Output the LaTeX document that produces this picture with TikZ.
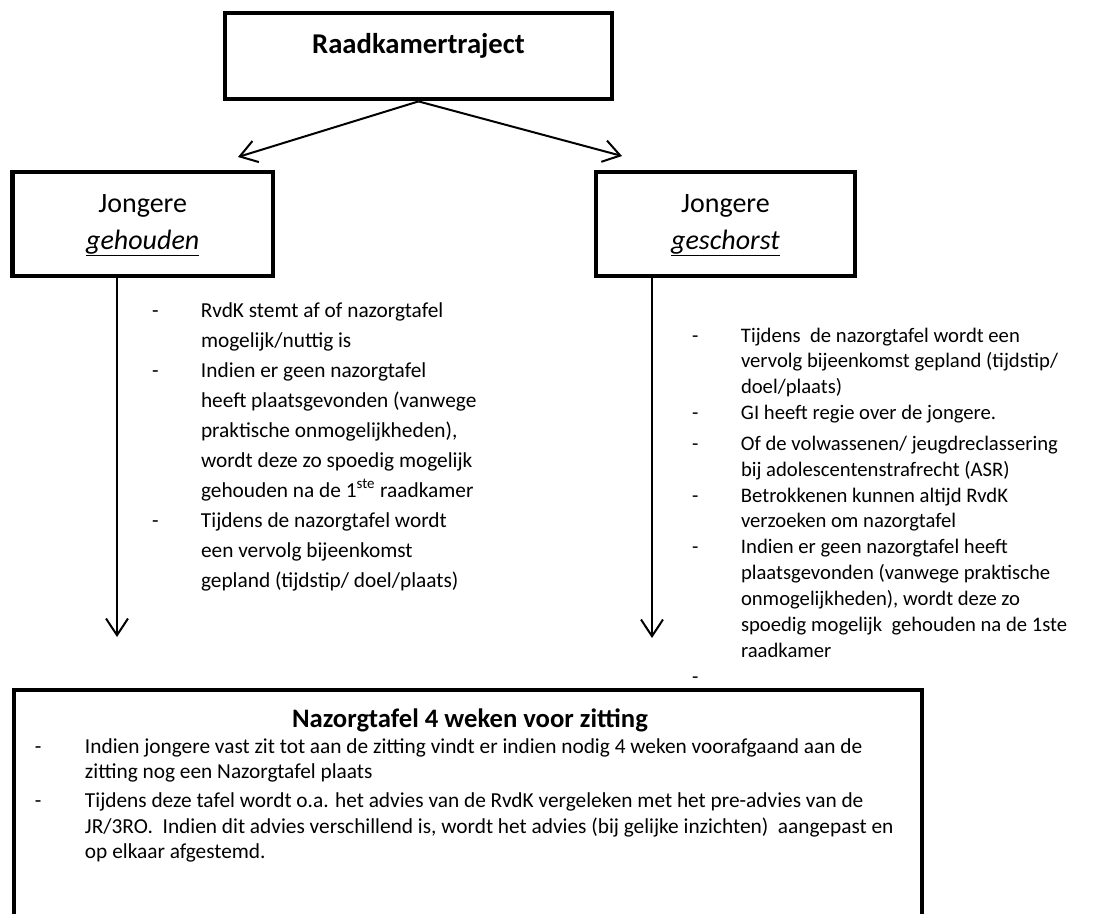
\documentclass[tikz,border=0pt]{standalone}
\usepackage{fontspec}
\setmainfont{Carlito}
\usetikzlibrary{arrows.meta}
% one list line: a dash in a fixed-width slot, then the text
\newcommand\dashline[2]{\hbox{\hbox to #1{-\hss}#2}}
% a continuation line, indented to the text column
\newcommand\contline[2]{\hbox{\kern#1\relax #2}}
\begin{document}
\begin{tikzpicture}[x=0.75pt,y=-0.75pt,
  box/.style={draw, line width=3.6pt, inner sep=0pt},
  conn/.style={line width=1.5pt, -{Straight Barb[length=12.5pt,width=16.5pt,line width=1.5pt]}},
  listtext/.style={anchor=base west, inner sep=0pt, outer sep=0pt}]
\useasboundingbox (0,0) rectangle (1093,914);
\clip (0,0) rectangle (1093,914);

% top box
\node[box, minimum width=290.25pt, minimum height=64.5pt] (top) at (418.5,56) {};
\node[anchor=base, inner sep=0pt] (toptitle) at (418.5,53)
  {\fontsize{21.5}{25}\selectfont\bfseries Raadkamertraject};

% the two branches
\node[box, minimum width=195.4pt, minimum height=78pt] (lbox) at (142.75,224) {};
\node[anchor=base, inner sep=0pt] (ltitle) at (142.75,212)
  {\fontsize{21}{24}\selectfont Jongere};
\node[anchor=base, inner sep=0pt] (lsub) at (142.75,249)
  {\fontsize{21}{24}\selectfont\underline{\textit{gehouden}}};

\node[box, minimum width=194.25pt, minimum height=78pt] (rbox) at (725.5,224) {};
\node[anchor=base, inner sep=0pt] (rtitle) at (725.5,212)
  {\fontsize{21}{24}\selectfont Jongere};
\node[anchor=base, inner sep=0pt] (rsub) at (725.5,249)
  {\fontsize{21}{24}\selectfont\underline{\textit{geschorst}}};

% arrows out of the top box
\coordinate (ltip) at (238,157);
\coordinate (rtip) at (622,156);
\draw[conn] (top.south) -- (ltip);
\draw[conn] (top.south) -- (rtip);

% arrows down from the branch boxes
\coordinate (ldown) at (117,637);
\coordinate (rdown) at (652,638);
\draw[conn] (lbox.south -| ldown) -- (ldown);
\draw[conn] (rbox.south -| rdown) -- (rdown);

% left list
\node[listtext] (llist) at (152,317) {\fontsize{16}{22.5}\selectfont\lineskiplimit=-\maxdimen
  \vtop{%
    \dashline{36.75pt}{RvdK stemt af of nazorgtafel}
    \contline{36.75pt}{mogelijk/nuttig is}
    \dashline{36.75pt}{Indien er geen nazorgtafel}
    \contline{36.75pt}{heeft plaatsgevonden (vanwege}
    \contline{36.75pt}{praktische onmogelijkheden),}
    \contline{36.75pt}{wordt deze zo spoedig mogelijk}
    \contline{36.75pt}{gehouden na de 1\textsuperscript{ste} raadkamer}
    \dashline{36.75pt}{Tijdens de nazorgtafel wordt}
    \contline{36.75pt}{een vervolg bijeenkomst}
    \contline{36.75pt}{gepland (tijdstip/ doel/plaats)}
  }};

% right list
\node[listtext] (rlist) at (692,342) {\fontsize{15.5}{19.4}\selectfont\lineskiplimit=-\maxdimen
  \vtop{%
    \dashline{36.75pt}{Tijdens\ \ de nazorgtafel wordt een}
    \contline{36.75pt}{vervolg bijeenkomst gepland (tijdstip/}
    \contline{36.75pt}{doel/plaats)}
    \dashline{36.75pt}{GI heeft regie over de jongere.}
    \vskip3.6pt
    \dashline{36.75pt}{Of de volwassenen/ jeugdreclassering}
    \contline{36.75pt}{bij adolescentenstrafrecht (ASR)}
    \dashline{36.75pt}{Betrokkenen kunnen altijd RvdK}
    \contline{36.75pt}{verzoeken om nazorgtafel}
    \dashline{36.75pt}{Indien er geen nazorgtafel heeft}
    \contline{36.75pt}{plaatsgevonden (vanwege praktische}
    \contline{36.75pt}{onmogelijkheden), wordt deze zo}
    \contline{36.75pt}{spoedig mogelijk\ \ gehouden na de 1ste}
    \contline{36.75pt}{raadkamer}
    \dashline{36.75pt}{}
  }};

% bottom box
\node[box, minimum width=681pt, minimum height=172.5pt] (bbox) at (468,805) {};
\node[anchor=base, inner sep=0pt] (btitle) at (470,727)
  {\fontsize{20}{24}\selectfont\bfseries Nazorgtafel 4 weken voor zitting};
\node[listtext] (blist) at (35,753) {\fontsize{16}{19.1}\selectfont\lineskiplimit=-\maxdimen
  \vtop{%
    \dashline{37.5pt}{Indien jongere vast zit tot aan de zitting vindt er indien nodig 4 weken voorafgaand aan de}
    \contline{37.5pt}{zitting nog een Nazorgtafel plaats}
    \vskip3pt
    \dashline{37.5pt}{Tijdens deze tafel wordt o.a. het advies van de RvdK vergeleken met het pre-advies van de}
    \contline{37.5pt}{JR/3RO.\ \ Indien dit advies verschillend is, wordt het advies (bij gelijke inzichten)\ \ aangepast en}
    \contline{37.5pt}{op elkaar afgestemd.}
  }};
\end{tikzpicture}
\end{document}
